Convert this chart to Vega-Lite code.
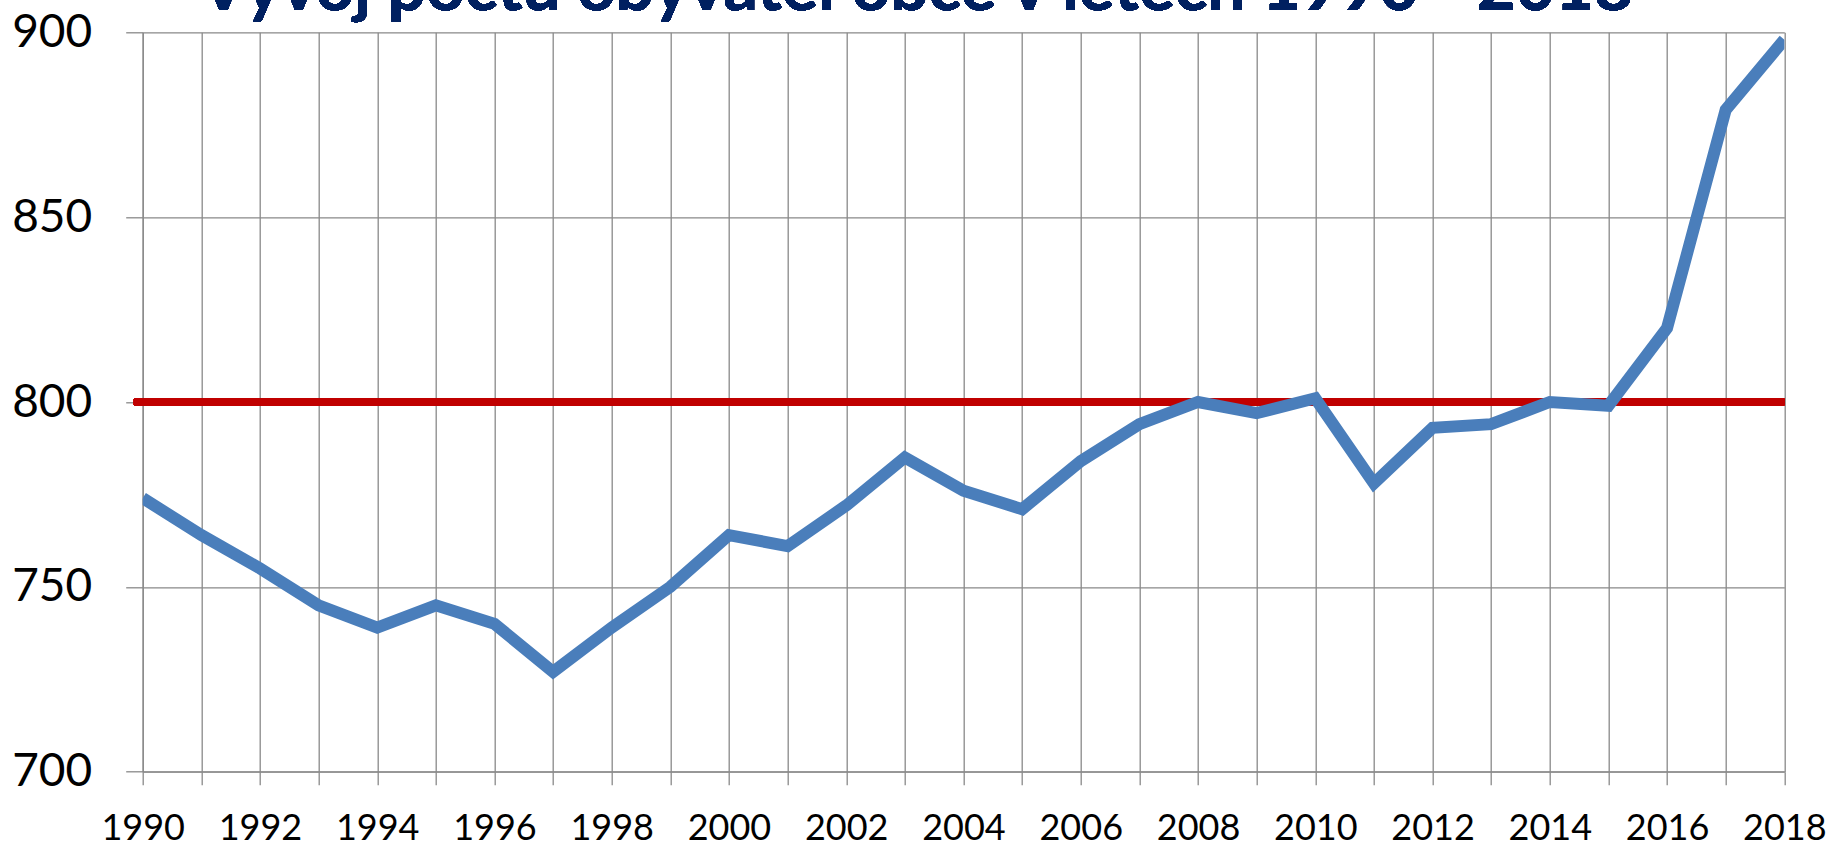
{
  "$schema": "https://vega.github.io/schema/vega-lite/v6.json",
  "width": 1641.6,
  "height": 739.4,
  "autosize": {"type": "none"},
  "padding": {"left": 142.7, "top": 32.3, "right": 46.7, "bottom": 74.3},
  "background": "white",
  "config": {
    "view": {"stroke": null},
    "axis": {
      "gridColor": "#898989",
      "gridWidth": 1.3,
      "gridOpacity": 1,
      "domainColor": "#898989",
      "domainWidth": 1.3,
      "tickColor": "#898989",
      "tickWidth": 1.3,
      "labelFont": "Lato",
      "labelColor": "#000000",
      "title": null
    }
  },
  "data": {
    "values": [
      {"year": 1990, "population": 774},
      {"year": 1991, "population": 764},
      {"year": 1992, "population": 755},
      {"year": 1993, "population": 745},
      {"year": 1994, "population": 739},
      {"year": 1995, "population": 745},
      {"year": 1996, "population": 740},
      {"year": 1997, "population": 727},
      {"year": 1998, "population": 739},
      {"year": 1999, "population": 750},
      {"year": 2000, "population": 764},
      {"year": 2001, "population": 761},
      {"year": 2002, "population": 772},
      {"year": 2003, "population": 785},
      {"year": 2004, "population": 776},
      {"year": 2005, "population": 771},
      {"year": 2006, "population": 784},
      {"year": 2007, "population": 794},
      {"year": 2008, "population": 800},
      {"year": 2009, "population": 797},
      {"year": 2010, "population": 801},
      {"year": 2011, "population": 778},
      {"year": 2012, "population": 793},
      {"year": 2013, "population": 794},
      {"year": 2014, "population": 800},
      {"year": 2015, "population": 799},
      {"year": 2016, "population": 820},
      {"year": 2017, "population": 879},
      {"year": 2018, "population": 898}
    ]
  },
  "layer": [
    {
      "mark": {"type": "rule", "color": "#C00000", "strokeWidth": 6.5},
      "encoding": {
        "x": {
          "datum": 1989.85,
          "type": "quantitative",
          "scale": {"domain": [1990, 2018], "nice": false, "zero": false},
          "axis": {
            "values": [1990,1991,1992,1993,1994,1995,1996,1997,1998,1999,2000,2001,2002,2003,2004,2005,2006,2007,2008,2009,2010,2011,2012,2013,2014,2015,2016,2017,2018],
            "format": "d",
            "labelExpr": "datum.value % 2 == 0 ? datum.label : ''",
            "grid": true,
            "tickSize": 13,
            "labelFontSize": 36,
            "labelPadding": 27,
            "labelAngle": 0,
            "labelOverlap": false,
            "labelFlush": false,
            "labelBound": false
          }
        },
        "x2": {"datum": 2018},
        "y": {
          "datum": 800,
          "type": "quantitative",
          "scale": {"domain": [700, 900], "nice": false, "zero": false},
          "axis": {
            "values": [700, 750, 800, 850, 900],
            "grid": true,
            "tickSize": 17,
            "labelFontSize": 46,
            "labelPadding": 34,
            "labelOverlap": false,
            "labelFlush": false
          }
        }
      }
    },
    {
      "mark": {
        "type": "line",
        "color": "#4A7EBB",
        "strokeWidth": 12,
        "strokeJoin": "miter",
        "strokeCap": "butt",
        "clip": true
      },
      "encoding": {
        "x": {"field": "year", "type": "quantitative"},
        "y": {"field": "population", "type": "quantitative"}
      }
    },
    {
      "mark": {
        "type": "text",
        "font": "Lato",
        "fontSize": 67.5,
        "fontWeight": "bold",
        "color": "#002060",
        "align": "center",
        "baseline": "alphabetic",
        "clip": false
      },
      "encoding": {
        "x": {"datum": 2003.2},
        "y": {"datum": 905.9},
        "text": {"value": "Vývoj počtu obyvatel obce v letech 1990 - 2018"}
      }
    }
  ]
}
